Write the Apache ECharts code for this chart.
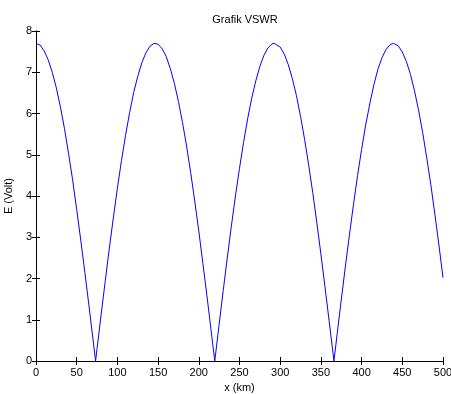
<!DOCTYPE html>
<html>
<head>
<meta charset="utf-8">
<script src="https://cdn.jsdelivr.net/npm/echarts@6/dist/echarts.min.js"></script>
<style>
  html, body { margin: 0; padding: 0; background: #fff; }
  #chart { width: 451px; height: 394px; }
</style>
</head>
<body>
<div id="chart"></div>
<script>
// distance along the line (km) and field amplitude (Volt)
const xKm = [
  0, 5, 10, 15, 20, 25, 30, 35, 40, 45, 50, 55, 60, 65, 70, 73.2,
  75, 80, 85, 90, 95, 100, 105, 110, 115, 120, 125, 130, 135, 140, 145, 146.4,
  150, 155, 160, 165, 170, 175, 180, 185, 190, 195, 200, 205, 210, 215, 219.6,
  225, 230, 235, 240, 245, 250, 255, 260, 265, 270, 275, 280, 285, 290, 292.8, 295,
  300, 305, 310, 315, 320, 325, 330, 335, 340, 345, 350, 355, 360, 365, 366,
  370, 375, 380, 385, 390, 395, 400, 405, 410, 415, 420, 425, 430, 435, 439.2,
  445, 450, 455, 460, 465, 470, 475, 480, 485, 490, 495, 500
];
const eVolt = [
  7.70, 7.66, 7.52, 7.30, 7.00, 6.62, 6.16, 5.63, 5.03, 4.39, 3.67, 2.93, 2.15, 1.35, 0.53, 0,
  0.30, 1.12, 1.93, 2.72, 3.47, 4.19, 4.86, 5.47, 6.02, 6.51, 6.90, 7.23, 7.47, 7.63, 7.70, 7.70,
  7.68, 7.57, 7.38, 7.09, 6.73, 6.29, 5.78, 5.21, 4.57, 3.88, 3.15, 2.37, 1.58, 0.76, 0,
  0.89, 1.71, 2.50, 3.27, 4.00, 4.67, 5.30, 5.87, 6.37, 6.79, 7.14, 7.41, 7.59, 7.69, 7.70, 7.69,
  7.61, 7.44, 7.18, 6.84, 6.43, 5.93, 5.37, 4.75, 4.08, 3.35, 2.59, 1.80, 0.99, 0.17, 0,
  0.66, 1.48, 2.28, 3.05, 3.79, 4.49, 5.13, 5.72, 6.23, 6.69, 7.07, 7.35, 7.55, 7.67, 7.70,
  7.64, 7.49, 7.26, 6.95, 6.55, 6.08, 5.54, 4.93, 4.28, 3.56, 2.81, 2.02
];

const chartTitle = "Grafik VSWR";
const xLabel = "x (km)";
const yLabel = "E (Volt)";

const font = "Liberation Sans, Arial, Helvetica, sans-serif";

const points = xKm.map((x, i) => [x, eVolt[i]]);

const chart = echarts.init(document.getElementById("chart"));

const axisLine = { show: true, lineStyle: { color: "#000", width: 1 } };
const tickIn = { show: true, inside: true, length: 4, lineStyle: { color: "#000" } };

chart.setOption({
  animation: false,
  backgroundColor: "#fff",
  title: {
    text: chartTitle,
    left: 240,
    textAlign: "center",
    top: 9,
    textStyle: { fontFamily: font, fontSize: 11, fontWeight: "normal", color: "#000" }
  },
  grid: { left: 36, top: 31, right: 8, bottom: 33, outerBoundsMode: "none" },
  xAxis: [
    {
      type: "value",
      min: 0,
      max: 500,
      interval: 50,
      name: xLabel,
      nameLocation: "middle",
      nameGap: 21,
      nameTextStyle: { fontFamily: font, fontSize: 11, color: "#000" },
      axisLine: axisLine,
      axisTick: tickIn,
      axisLabel: { fontFamily: font, fontSize: 11, color: "#000", margin: 6 },
      splitLine: { show: false }
    },
    {
      type: "value",
      position: "top",
      min: 0,
      max: 500,
      interval: 50,
      axisLine: axisLine,
      axisTick: tickIn,
      axisLabel: { show: false },
      splitLine: { show: false }
    }
  ],
  yAxis: [
    {
      type: "value",
      min: 0,
      max: 8,
      interval: 1,
      name: yLabel,
      nameLocation: "middle",
      nameGap: 22,
      nameTextStyle: { fontFamily: font, fontSize: 11, color: "#000" },
      axisLine: axisLine,
      axisTick: tickIn,
      axisLabel: { fontFamily: font, fontSize: 11, color: "#000", margin: 4 },
      splitLine: { show: false }
    },
    {
      type: "value",
      position: "right",
      min: 0,
      max: 8,
      interval: 1,
      axisLine: axisLine,
      axisTick: tickIn,
      axisLabel: { show: false },
      splitLine: { show: false }
    }
  ],
  series: [
    {
      type: "line",
      data: points,
      showSymbol: false,
      lineStyle: { color: "#0000ff", width: 1 },
      itemStyle: { color: "#0000ff" }
    }
  ]
});
</script>
</body>
</html>
